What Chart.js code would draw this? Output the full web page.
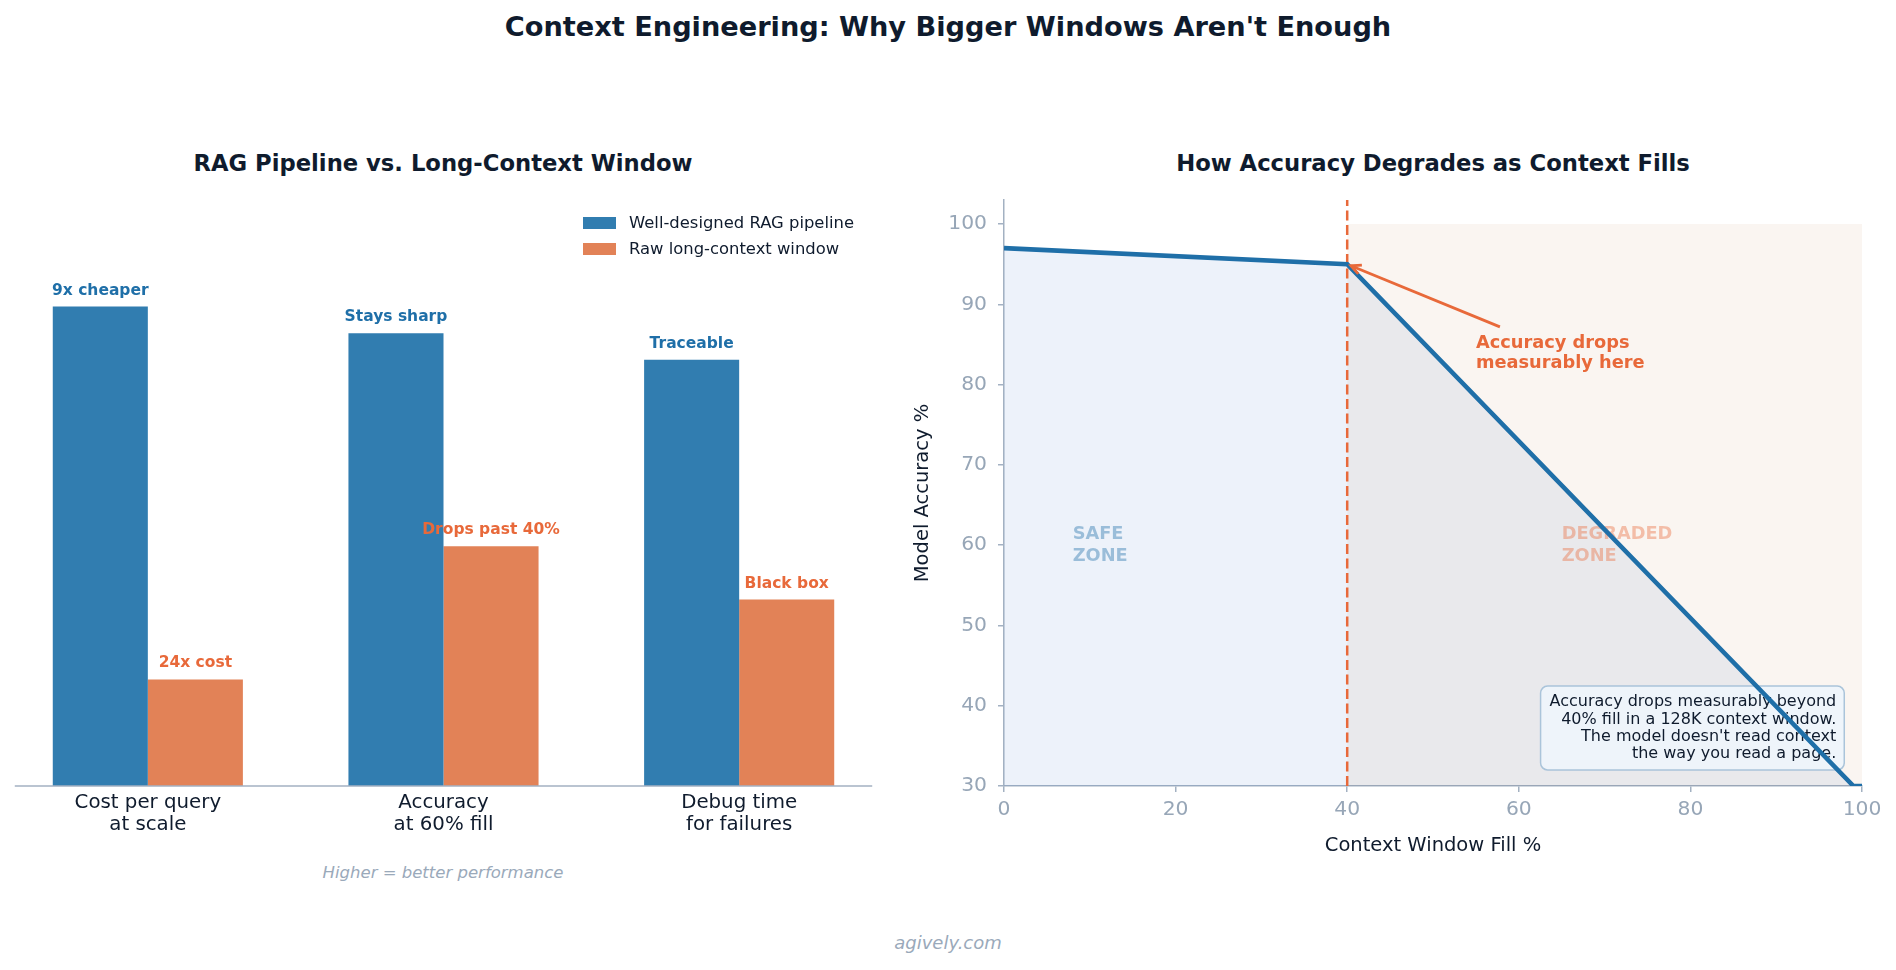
<!DOCTYPE html>
<html>
<head>
<meta charset="utf-8">
<script src="https://cdn.jsdelivr.net/npm/chart.js@4.4.1/dist/chart.umd.min.js"></script>
<style>
  html, body { margin: 0; padding: 0; background: #fff; }
  body { width: 1896px; height: 970px; position: relative; overflow: hidden; font-family: 'DejaVu Sans', sans-serif; }
  .txt { position: absolute; transform: translate(-50%, -50%); white-space: nowrap; line-height: 1; color: #0f1b2d; }
  .bold { font-weight: bold; }
  .note { font-style: italic; color: #9aa9ba; }
  canvas { position: absolute; top: 0; }
  #barChart { left: 0; }
  #lineChart { left: 880px; }
</style>
</head>
<body>
<div class="txt bold" style="left:948px; top:27px; font-size:27.2px;">Context Engineering: Why Bigger Windows Aren't Enough</div>
<div class="txt bold" style="left:443px; top:163px; font-size:22.7px;">RAG Pipeline vs. Long-Context Window</div>
<div class="txt bold" style="left:1433px; top:163px; font-size:22.7px;">How Accuracy Degrades as Context Fills</div>
<div class="txt note" style="left:443px; top:873px; font-size:16.5px;">Higher = better performance</div>
<div class="txt note" style="left:948px; top:943px; font-size:18px;">agively.com</div>

<canvas id="barChart" width="900" height="970"></canvas>
<canvas id="lineChart" width="1016" height="970"></canvas>

<script>
// left panel data
const categories = [['Cost per query', 'at scale'], ['Accuracy', 'at 60% fill'], ['Debug time', 'for failures']];
const seriesNames = ['Well-designed RAG pipeline', 'Raw long-context window'];
const ragScores = [9, 8.5, 8];
const longScores = [2, 4.5, 3.5];
const ragNotes = ['9x cheaper', 'Stays sharp', 'Traceable'];
const longNotes = ['24x cost', 'Drops past 40%', 'Black box'];

// right panel data
const fillPct = [0, 40, 99, 100];
const accuracy = [97, 95, 30, 30];
const thresholdPct = 40;
const zoneTop = 100;
const xTicks = [0, 20, 40, 60, 80, 100];
const yTicks = [30, 40, 50, 60, 70, 80, 90, 100];
const boxLines = ['Accuracy drops measurably beyond', '40% fill in a 128K context window.',
                  "The model doesn't read context", 'the way you read a page.'];

const FONT = "'DejaVu Sans', sans-serif";
const DARK = '#0f1b2d';
const SPINE = '#a3b1c2';
const BLUE = '#1f6fa8';
const ORANGE = '#e8693a';
Chart.defaults.font.family = FONT;

// ---------- bar chart ----------
const barExtras = {
  id: 'barExtras',
  afterDatasetsDraw(chart) {
    const ctx = chart.ctx;
    const xs = chart.scales.x;
    const area = chart.chartArea;
    ctx.save();
    // bottom spine only under the bars
    ctx.strokeStyle = SPINE;
    ctx.lineWidth = 1.5;
    ctx.beginPath();
    ctx.moveTo(xs.getPixelForValue(-0.45), area.bottom);
    ctx.lineTo(xs.getPixelForValue(2.45), area.bottom);
    ctx.stroke();

    // labels on top of the bars
    ctx.font = 'bold 15.5px ' + FONT;
    ctx.textAlign = 'center';
    ctx.textBaseline = 'alphabetic';
    chart.data.datasets.forEach((ds, i) => {
      ctx.fillStyle = ds.noteColor;
      chart.getDatasetMeta(i).data.forEach((bar, j) => {
        ctx.fillText(ds.notes[j], bar.x, bar.y - 12);
      });
    });

    // legend, top right
    const lx = area.right - 304;
    ctx.font = '16.4px ' + FONT;
    ctx.textAlign = 'left';
    ctx.textBaseline = 'middle';
    chart.data.datasets.forEach((ds, i) => {
      const top = area.top + 17 + i * 26;
      ctx.fillStyle = ds.backgroundColor;
      ctx.fillRect(lx, top, 33, 12);
      ctx.fillStyle = DARK;
      ctx.fillText(ds.label, lx + 46, top + 6.5);
    });
    ctx.restore();
  }
};

new Chart(document.getElementById('barChart').getContext('2d'), {
  type: 'bar',
  data: {
    labels: categories,
    datasets: [
      { label: seriesNames[0], data: ragScores, backgroundColor: 'rgb(49,125,176)', notes: ragNotes, noteColor: BLUE },
      { label: seriesNames[1], data: longScores, backgroundColor: 'rgb(226,130,87)', notes: longNotes, noteColor: ORANGE }
    ]
  },
  options: {
    responsive: false,
    animation: false,
    layout: { padding: { left: 0, right: 13, top: 200, bottom: 104 } },
    datasets: { bar: { categoryPercentage: 0.643, barPercentage: 1 } },
    scales: {
      x: {
        grid: { display: false, drawTicks: false },
        border: { display: false },
        ticks: { color: DARK, font: { size: 19.8, lineHeight: 1.12 }, padding: 6, maxRotation: 0, autoSkip: false },
        afterFit: s => { s.height = 80; }
      },
      y: { display: false, min: 0, max: 11 }
    },
    plugins: { legend: { display: false }, tooltip: { enabled: false } }
  },
  plugins: [barExtras]
});

// ---------- accuracy chart ----------
const toPoints = () => fillPct.map((x, i) => ({ x: x, y: accuracy[i] }));

const zoneExtras = {
  id: 'zoneExtras',
  beforeDatasetDraw(chart, args) {
    if (chart.data.datasets[args.index].role !== 'line') return;
    const ctx = chart.ctx;
    const xs = chart.scales.x, ys = chart.scales.y;
    ctx.save();
    // zone labels
    ctx.font = 'bold 17.8px ' + FONT;
    ctx.textAlign = 'left';
    ctx.textBaseline = 'middle';
    const yMid = ys.getPixelForValue(60);
    ctx.fillStyle = 'rgba(31,111,168,0.4)';
    ctx.fillText('SAFE', xs.getPixelForValue(8), yMid - 11);
    ctx.fillText('ZONE', xs.getPixelForValue(8), yMid + 11);
    ctx.fillStyle = 'rgba(232,105,58,0.4)';
    ctx.fillText('DEGRADED', xs.getPixelForValue(65), yMid - 11);
    ctx.fillText('ZONE', xs.getPixelForValue(65), yMid + 11);

    // explanation box, bottom right
    ctx.font = '16px ' + FONT;
    const right = xs.getPixelForValue(97);
    const bottom = ys.getPixelForValue(32);
    const w = Math.max(...boxLines.map(t => ctx.measureText(t).width));
    const lastBase = bottom - 11.8;
    const firstBase = lastBase - 17.3 * (boxLines.length - 1);
    const bx = right - w - 9, by = firstBase - 11.7 - 8.5;
    ctx.beginPath();
    ctx.roundRect(bx, by, right + 8 - bx, bottom - by, 7);
    ctx.fillStyle = 'rgba(238,244,251,0.95)';
    ctx.fill();
    ctx.lineWidth = 1.5;
    ctx.strokeStyle = '#aac4da';
    ctx.stroke();
    ctx.fillStyle = DARK;
    ctx.textAlign = 'right';
    ctx.textBaseline = 'alphabetic';
    boxLines.forEach((t, i) => ctx.fillText(t, right, firstBase + i * 17.3));
    ctx.restore();
  },
  afterDatasetsDraw(chart) {
    const ctx = chart.ctx;
    const xs = chart.scales.x, ys = chart.scales.y;
    ctx.save();
    // arrow to the knee of the curve
    const x0 = xs.getPixelForValue(57.8), y0 = ys.getPixelForValue(87.2);
    const kx = xs.getPixelForValue(thresholdPct), ky = ys.getPixelForValue(95);
    const ang = Math.atan2(ky - y0, kx - x0);
    const tx = kx - 4 * Math.cos(ang), ty = ky - 4 * Math.sin(ang);
    ctx.strokeStyle = ORANGE;
    ctx.lineWidth = 2.8;
    ctx.beginPath();
    ctx.moveTo(x0, y0);
    ctx.lineTo(tx, ty);
    ctx.stroke();
    ctx.beginPath();
    ctx.moveTo(tx - 11 * Math.cos(ang - 0.45), ty - 11 * Math.sin(ang - 0.45));
    ctx.lineTo(tx, ty);
    ctx.lineTo(tx - 11 * Math.cos(ang + 0.45), ty - 11 * Math.sin(ang + 0.45));
    ctx.stroke();

    ctx.fillStyle = ORANGE;
    ctx.font = 'bold 17.8px ' + FONT;
    ctx.textAlign = 'left';
    ctx.textBaseline = 'alphabetic';
    const ax = xs.getPixelForValue(55), ay = ys.getPixelForValue(85);
    ctx.fillText('Accuracy drops', ax, ay + 4);
    ctx.fillText('measurably here', ax, ay + 24);
    ctx.restore();
  }
};

new Chart(document.getElementById('lineChart').getContext('2d'), {
  type: 'line',
  data: {
    datasets: [
      { role: 'line', data: toPoints(), borderColor: BLUE, borderWidth: 4.6, fill: false, pointRadius: 0, tension: 0, order: 1 },
      { role: 'threshold', data: [{ x: thresholdPct, y: 30 }, { x: thresholdPct, y: 103 }], borderColor: ORANGE,
        borderWidth: 2.5, borderDash: [10, 4.5], fill: false, pointRadius: 0, order: 2 },
      { role: 'band', data: [{ x: thresholdPct, y: zoneTop }, { x: 100, y: zoneTop }], borderColor: 'transparent',
        borderWidth: 0, backgroundColor: 'rgba(190,120,60,0.07)', fill: 'start', pointRadius: 0, order: 3 },
      { role: 'area', data: toPoints(), borderColor: 'transparent', borderWidth: 0,
        backgroundColor: 'rgba(30,90,190,0.08)', fill: 'start', pointRadius: 0, order: 4 }
    ]
  },
  options: {
    responsive: false,
    animation: false,
    layout: { padding: { left: 0, right: 34, top: 200, bottom: 100 } },
    scales: {
      x: {
        type: 'linear', min: 0, max: 100,
        afterBuildTicks: s => { s.ticks = xTicks.map(v => ({ value: v })); },
        grid: { drawOnChartArea: false, drawTicks: true, tickLength: 6, color: SPINE, lineWidth: 1.5 },
        border: { color: SPINE, width: 1.5 },
        ticks: { color: '#97a6b7', font: { size: 20.3 }, padding: 6 },
        title: { display: true, text: 'Context Window Fill %', color: DARK, font: { size: 19.5 }, padding: { top: 0, bottom: 12 } },
        afterFit: s => { s.height = 84; }
      },
      y: {
        type: 'linear', min: 30, max: 103,
        afterBuildTicks: s => { s.ticks = yTicks.map(v => ({ value: v })); },
        grid: { drawOnChartArea: false, drawTicks: true, tickLength: 6, color: SPINE, lineWidth: 1.5 },
        border: { color: SPINE, width: 1.5 },
        ticks: { color: '#97a6b7', font: { size: 20.3 }, padding: 11 },
        title: { display: true, text: 'Model Accuracy %', color: DARK, font: { size: 19.5 }, padding: { top: 31, bottom: 0 } },
        afterFit: s => { s.width = 124; }
      }
    },
    plugins: { legend: { display: false }, tooltip: { enabled: false } }
  },
  plugins: [zoneExtras]
});
</script>
</body>
</html>
